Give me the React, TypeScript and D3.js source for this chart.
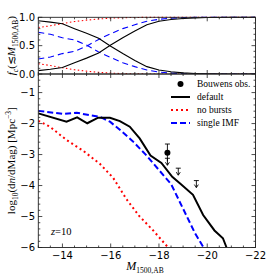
import React from 'react';
import * as d3 from 'd3';

// top panel: cumulative fractions
const fracMag = [-13, -13.5, -14, -14.5, -15, -15.5, -16, -16.5, -17, -17.5, -18, -18.5, -19, -19.5, -20, -21, -22];
const fracDefault = [0.94, 0.915, 0.885, 0.8, 0.72, 0.63, 0.49, 0.36, 0.24, 0.13, 0.07, 0.04, 0.02, 0.01, 0.004, 0, 0];
const fracNoBurst = [0.18, 0.15, 0.11, 0.075, 0.05, 0.03, 0.015, 0.007, 0.003, 0.001, 0, 0, 0, 0, 0, 0, 0];
const fracSingle = [0.735, 0.7, 0.64, 0.6, 0.51, 0.39, 0.29, 0.2, 0.13, 0.07, 0.035, 0.015, 0.006, 0.002, 0, 0, 0];

// bottom panel: luminosity functions
const defMag = [-13, -14.17, -14.61, -15.03, -15.48, -15.97, -16.38, -16.79, -17.2, -17.65, -18.1, -18.55, -18.9, -19.41, -19.83, -20.3, -20.65, -20.8];
const defPhi = [-1.67, -1.94, -1.8, -1.99, -1.81, -1.81, -1.92, -2.1, -2.48, -3.03, -3.27, -3.72, -3.95, -4.3, -4.95, -5.45, -5.7, -6.0];
const noBurstMag = [-13, -13.48, -14.17, -14.86, -15.55, -16.1, -16.66, -17.2, -17.76, -18.38];
const noBurstPhi = [-1.91, -2.1, -2.53, -2.88, -3.3, -3.75, -4.45, -5.0, -5.45, -6.0];
const singleMag = [-13, -14.03, -14.59, -15.14, -15.55, -15.97, -16.38, -16.9, -17.45, -18.0, -18.5, -19.0, -19.5, -19.85];
const singlePhi = [-1.59, -1.69, -1.65, -1.73, -1.78, -1.94, -2.2, -2.56, -3.0, -3.5, -3.95, -4.75, -5.55, -6.0];

// Bouwens obs.
const obsMag = [-18.35];
const obsPhi = [-2.94];
const obsErr = [0.28];
const limMag = [-18.35, -18.8, -19.55];
const limPhi = [-3.12, -3.44, -3.84];

const xTicks = [-14, -16, -18, -20, -22];
const yTicksTop = [0, 0.5, 1];
const yTicksBot = [-1, -2, -3, -4, -5, -6];

const W = 269, H = 279;
const L = 38.3, R = 255.5, T1 = 17.3, B1 = 74, B2 = 247.5;
const tickFont = 'DejaVu Sans, sans-serif';
const serif = 'Liberation Serif, Times New Roman, serif';

export default function App() {
  const x = d3.scaleLinear().domain([-13, -22]).range([L, R]);
  const yTop = d3.scaleLinear().domain([0, 1]).range([B1, T1]);
  const yBot = d3.scaleLinear().domain([-6, -0.4]).range([B2, B1]);

  const lineTop = (vals: number[]) =>
    d3.line<number>().x((_, i) => x(fracMag[i])).y(d => yTop(d))(vals) || '';
  const lineBot = (mags: number[], phis: number[]) =>
    d3.line<number>().x(d => x(d)).y((_, i) => yBot(phis[i]))(mags) || '';

  const minorX = d3.range(-13, -22.01, -0.5);
  const minorTop = d3.range(0, 1.001, 0.1);
  const minorBot = d3.range(-6, -0.4, 0.2);

  const xTickMarks = (yEdge: number, dir: number) => (
    <g>
      {minorX.map((v, i) => {
        const major = xTicks.includes(Math.round(v * 10) / 10);
        const len = major ? 4 : 2;
        return <line key={i} x1={x(v)} x2={x(v)} y1={yEdge} y2={yEdge + dir * len} stroke="#222" strokeWidth={0.8} />;
      })}
    </g>
  );

  const yTickMarks = (vals: number[], scale: d3.ScaleLinear<number, number>, majors: number[]) => (
    <g>
      {vals.map((v, i) => {
        const major = majors.some(m => Math.abs(m - v) < 1e-6);
        const len = major ? 4 : 2;
        return (
          <g key={i}>
            <line x1={L} x2={L + len} y1={scale(v)} y2={scale(v)} stroke="#222" strokeWidth={0.8} />
            <line x1={R} x2={R - len} y1={scale(v)} y2={scale(v)} stroke="#222" strokeWidth={0.8} />
          </g>
        );
      })}
    </g>
  );

  const legendX = 171, legendTX = 197;
  const legendRows = [84, 97, 110, 123];

  return (
    <svg width={W} height={H} style={{ position: 'absolute', left: 0, top: 0, background: '#fff' }}>
      <defs>
        <clipPath id="clipTop"><rect x={L} y={T1 - 2} width={R - L} height={B1 - T1 + 2} /></clipPath>
        <clipPath id="clipBot"><rect x={L} y={B1} width={R - L} height={B2 - B1} /></clipPath>
      </defs>

      {/* top panel curves */}
      <g clipPath="url(#clipTop)" fill="none" strokeWidth={1.1}>
        <path d={lineTop(fracNoBurst)} stroke="#ff0000" strokeDasharray="1.5,2.5" />
        <path d={lineTop(fracNoBurst.map(v => 1 - v))} stroke="#ff0000" strokeDasharray="1.5,2.5" />
        <path d={lineTop(fracSingle)} stroke="#0000ff" strokeDasharray="6,4" />
        <path d={lineTop(fracSingle.map(v => 1 - v))} stroke="#0000ff" strokeDasharray="6,4" />
        <path d={lineTop(fracDefault)} stroke="#000" />
        <path d={lineTop(fracDefault.map(v => 1 - v))} stroke="#000" />
      </g>

      {/* bottom panel curves */}
      <g clipPath="url(#clipBot)" fill="none" strokeWidth={2}>
        <path d={lineBot(noBurstMag, noBurstPhi)} stroke="#ff0000" strokeDasharray="2,3" />
        <path d={lineBot(singleMag, singlePhi)} stroke="#0000ff" strokeDasharray="6,3" />
        <path d={lineBot(defMag, defPhi)} stroke="#000" />
      </g>

      {/* observations */}
      <g stroke="#000" strokeWidth={0.9} fill="#000">
        {obsMag.map((m, i) => (
          <g key={'o' + i}>
            <line x1={x(m)} x2={x(m)} y1={yBot(obsPhi[i] + obsErr[i])} y2={yBot(obsPhi[i] - obsErr[i])} />
            <line x1={x(m) - 2.5} x2={x(m) + 2.5} y1={yBot(obsPhi[i] + obsErr[i])} y2={yBot(obsPhi[i] + obsErr[i])} />
            <circle cx={x(m)} cy={yBot(obsPhi[i])} r={3} stroke="none" />
          </g>
        ))}
        {limMag.map((m, i) => {
          const cx = x(m), cy = yBot(limPhi[i]);
          return (
            <g key={'l' + i}>
              <line x1={cx - 2.5} x2={cx + 2.5} y1={cy} y2={cy} />
              <line x1={cx} x2={cx} y1={cy} y2={cy + 7} />
              <path d={`M${cx - 2},${cy + 4} L${cx},${cy + 7} L${cx + 2},${cy + 4}`} fill="none" />
            </g>
          );
        })}
      </g>

      {/* frames */}
      <rect x={L} y={T1} width={R - L} height={B1 - T1} fill="none" stroke="#222" strokeWidth={0.9} />
      <rect x={L} y={B1} width={R - L} height={B2 - B1} fill="none" stroke="#222" strokeWidth={0.9} />

      {/* ticks */}
      {xTickMarks(T1, 1)}
      {xTickMarks(B1, -1)}
      {xTickMarks(B1, 1)}
      {xTickMarks(B2, -1)}
      {yTickMarks(minorTop, yTop, yTicksTop)}
      {yTickMarks(minorBot, yBot, yTicksBot)}

      {/* tick labels */}
      <g fontFamily={tickFont} fontSize={10} fill="#000">
        {xTicks.map(v => (
          <text key={'x' + v} x={x(v)} y={259} textAnchor="middle">{'\u2212' + Math.abs(v)}</text>
        ))}
        {yTicksTop.map(v => (
          <text key={'t' + v} x={35} y={yTop(v) + 3.6} textAnchor="end">{v.toFixed(1)}</text>
        ))}
        {yTicksBot.map(v => (
          <text key={'b' + v} x={35} y={yBot(v) + 3.6} textAnchor="end">{'\u2212' + Math.abs(v)}</text>
        ))}
      </g>

      {/* axis labels */}
      <text x={145} y={270} textAnchor="middle" fontFamily={serif} fontSize={12}>
        <tspan fontStyle="italic">M</tspan>
        <tspan fontSize={7.5} dy={2.5}>1500,AB</tspan>
      </text>
      <text transform={`translate(15,${(B1 + B2) / 2}) rotate(-90)`} textAnchor="middle" fontFamily={serif} fontSize={11}>
        <tspan>log</tspan>
        <tspan fontSize={7.5} dy={2.5}>10</tspan>
        <tspan dy={-2.5}>(d</tspan>
        <tspan fontStyle="italic">n</tspan>
        <tspan>/dMag) [Mpc</tspan>
        <tspan fontSize={7.5} dy={-4}>{'\u22123'}</tspan>
        <tspan dy={4}>]</tspan>
      </text>
      <text transform={`translate(15,${(T1 + B1) / 2}) rotate(-90)`} textAnchor="middle" fontFamily={serif} fontSize={11}>
        <tspan fontStyle="italic">f</tspan>
        <tspan fontSize={7.5} dy={2.5} fontStyle="italic">c</tspan>
        <tspan dy={-2.5}>({'\u2272'}</tspan>
        <tspan fontStyle="italic">M</tspan>
        <tspan fontSize={7.5} dy={2.5}>1500,AB</tspan>
        <tspan dy={-2.5}>)</tspan>
      </text>

      {/* z label */}
      <text x={51} y={235} fontFamily={serif} fontSize={10.5}>
        <tspan fontStyle="italic">z</tspan>
        <tspan>=10</tspan>
      </text>

      {/* legend */}
      <g fontFamily={serif} fontSize={9.5}>
        <circle cx={(legendX + 190) / 2} cy={legendRows[0]} r={3} fill="#000" />
        <text x={legendTX} y={legendRows[0] + 3}>Bouwens obs.</text>
        <line x1={legendX} x2={190} y1={legendRows[1]} y2={legendRows[1]} stroke="#000" strokeWidth={2} />
        <text x={legendTX} y={legendRows[1] + 3}>default</text>
        <line x1={legendX} x2={190} y1={legendRows[2]} y2={legendRows[2]} stroke="#ff0000" strokeWidth={2} strokeDasharray="2,3" />
        <text x={legendTX} y={legendRows[2] + 3}>no bursts</text>
        <line x1={legendX} x2={190} y1={legendRows[3]} y2={legendRows[3]} stroke="#0000ff" strokeWidth={2} strokeDasharray="6,3" />
        <text x={legendTX} y={legendRows[3] + 3}>single IMF</text>
      </g>
    </svg>
  );
}
